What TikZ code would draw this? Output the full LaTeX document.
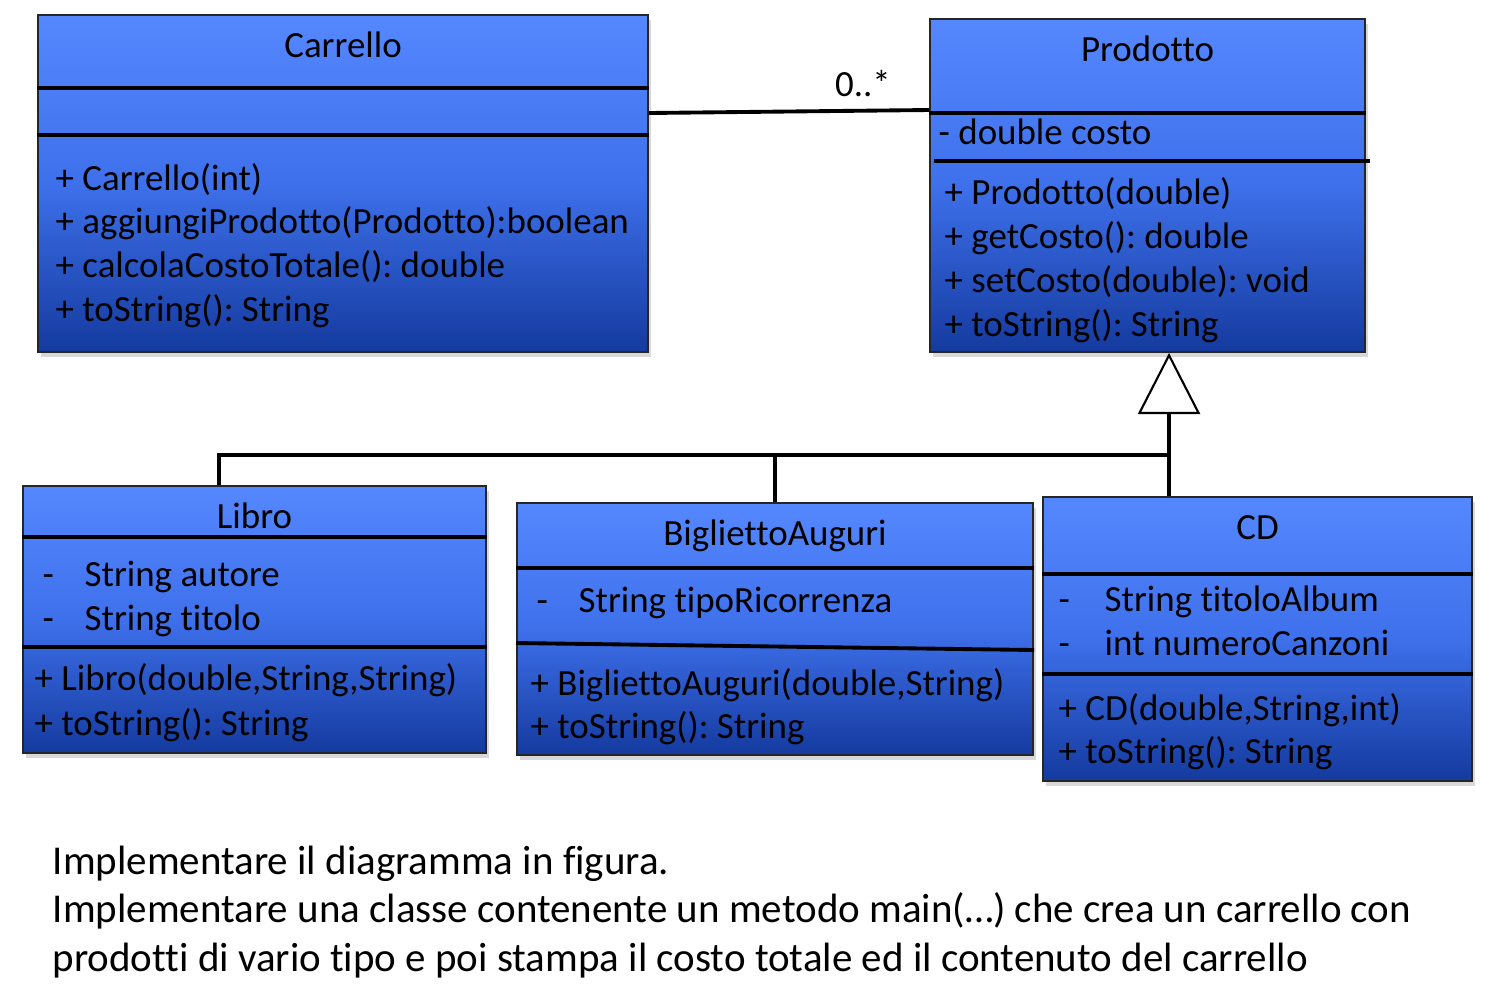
\documentclass[tikz,border=0pt]{standalone}
\usepackage{fontspec}
\setmainfont{Carlito}[Ligatures=NoCommon]
\frenchspacing
\usetikzlibrary{arrows.meta, positioning, calc, shadows}
\definecolor{umltop}{RGB}{85,136,255}
\definecolor{umlmid}{RGB}{62,112,235}
\definecolor{umlbottom}{RGB}{20,58,158}
\newcommand{\umlfont}{\fontsize{10.5}{12.6}\selectfont}
\newcommand{\notefont}{\fontsize{11.65}{14}\selectfont}
\newcommand{\attr}[2][0.43cm]{\makebox[#1][l]{-}#2}

\begin{document}
\begin{tikzpicture}[
  x=0.01cm, y=-0.01cm,
  classbox/.style={draw=black!85, line width=0.5pt, anchor=north west, inner sep=0pt,
    top color=umltop, bottom color=umlbottom, middle color=umlmid,
    drop shadow={opacity=0.3, shadow xshift=0.03cm, shadow yshift=-0.05cm}},
  classname/.style={anchor=base, inner sep=0pt, font=\umlfont},
  member/.style={anchor=base west, inner sep=0pt, font=\umlfont},
  divider/.style={line width=1.1pt},
  link/.style={line width=1.1pt},
  note/.style={anchor=base west, inner sep=0pt, font=\notefont}
]
\fill[white] (0,0) rectangle (1492,984);
\useasboundingbox (0,0) rectangle (1492,984);

% classes
\node[classbox, minimum width=6.10cm, minimum height=3.37cm] (carrello) at (37,14) {};
\node[classbox, minimum width=4.35cm, minimum height=3.33cm] (prodotto) at (929,18) {};
\node[classbox, minimum width=4.63cm, minimum height=2.67cm] (libro) at (22,485) {};
\node[classbox, minimum width=5.16cm, minimum height=2.52cm] (biglietto) at (516,502) {};
\node[classbox, minimum width=4.29cm, minimum height=2.84cm] (cd) at (1042,496) {};

\draw[divider] (carrello.west |- 0,88) -- (carrello.east |- 0,88);
\draw[divider] (carrello.west |- 0,135) -- (carrello.east |- 0,135);
\draw[divider] (prodotto.west |- 0,113) -- (prodotto.east |- 0,113);
\draw[divider] (934,161) -- (1370,161);
\draw[divider] (libro.west |- 0,537) -- (libro.east |- 0,537);
\draw[divider] (libro.west |- 0,647) -- (libro.east |- 0,647);
\draw[divider] (biglietto.west |- 0,568) -- (biglietto.east |- 0,568);
\draw[divider] (biglietto.west |- 0,643) -- (biglietto.east |- 0,650);
\draw[divider] (cd.west |- 0,574) -- (cd.east |- 0,574);
\draw[divider] (cd.west |- 0,674) -- (cd.east |- 0,674);

\node[classname] (carrelloname) at (carrello.north |- 0,57) {Carrello};
\node[member] (carrelloop1) at (55,190) {+ Carrello(int)};
\node[member] (carrelloop2) at (55,233) {+ aggiungiProdotto(Prodotto):boolean};
\node[member] (carrelloop3) at (55,277) {+ calcolaCostoTotale(): double};
\node[member] (carrelloop4) at (55,321) {+ toString(): String};

\node[classname] (prodottoname) at (prodotto.north |- 0,61) {Prodotto};
\node[member] (prodottoattr1) at (938,144) {- double costo};
\node[member] (prodottoop1) at (944,204) {+ Prodotto(double)};
\node[member] (prodottoop2) at (944,248) {+ getCosto(): double};
\node[member] (prodottoop3) at (944,292) {+ setCosto(double): void};
\node[member] (prodottoop4) at (944,336) {+ toString(): String};

\node[classname] (libroname) at (libro.north |- 0,528) {Libro};
\node[member] (libroattr1) at (42,586) {\attr[0.42cm]{String autore}};
\node[member] (libroattr2) at (42,630) {\attr[0.42cm]{String titolo}};
\node[member] (libroop1) at (34,690) {+ Libro(double,String,String)};
\node[member] (libroop2) at (34,735) {+ toString(): String};

\node[classname] (bigliettoname) at (biglietto.north |- 0,545) {BigliettoAuguri};
\node[member] (bigliettoattr1) at (536,612) {\attr[0.42cm]{String tipoRicorrenza}};
\node[member] (bigliettoop1) at (530,695) {+ BigliettoAuguri(double,String)};
\node[member] (bigliettoop2) at (530,738) {+ toString(): String};

\node[classname] (cdname) at (cd.north |- 0,539) {CD};
\node[member] (cdattr1) at (1058,611) {\attr[0.46cm]{String titoloAlbum}};
\node[member] (cdattr2) at (1058,655) {\attr[0.46cm]{int numeroCanzoni}};
\node[member] (cdop1) at (1058,720) {+ CD(double,String,int)};
\node[member] (cdop2) at (1058,763) {+ toString(): String};

% relations
\draw[link] (carrello.east |- 0,113) -- (prodotto.west |- 0,110);
\node[classname] (multiplicity) at (863,96) {0..*};

\coordinate (gen) at (1169,455);
\draw[link, -{Triangle[length=0.61cm, width=0.62cm, fill=white, line width=0.6pt]}]
  (cd.north -| gen) -- (prodotto.south -| gen);
\draw[link] (libro.north -| 219,0) |- (gen);
\draw[link] (biglietto.north) -- (biglietto.north |- gen);

% task text
\node[note] (task1) at (52,874) {Implementare il diagramma in figura.};
\node[note] (task2) at (52,922) {Implementare una classe contenente un metodo main(…) che crea un carrello con};
\node[note] (task3) at (52,971) {prodotti di vario tipo e poi stampa il costo totale ed il contenuto del carrello};
\end{tikzpicture}
\end{document}
